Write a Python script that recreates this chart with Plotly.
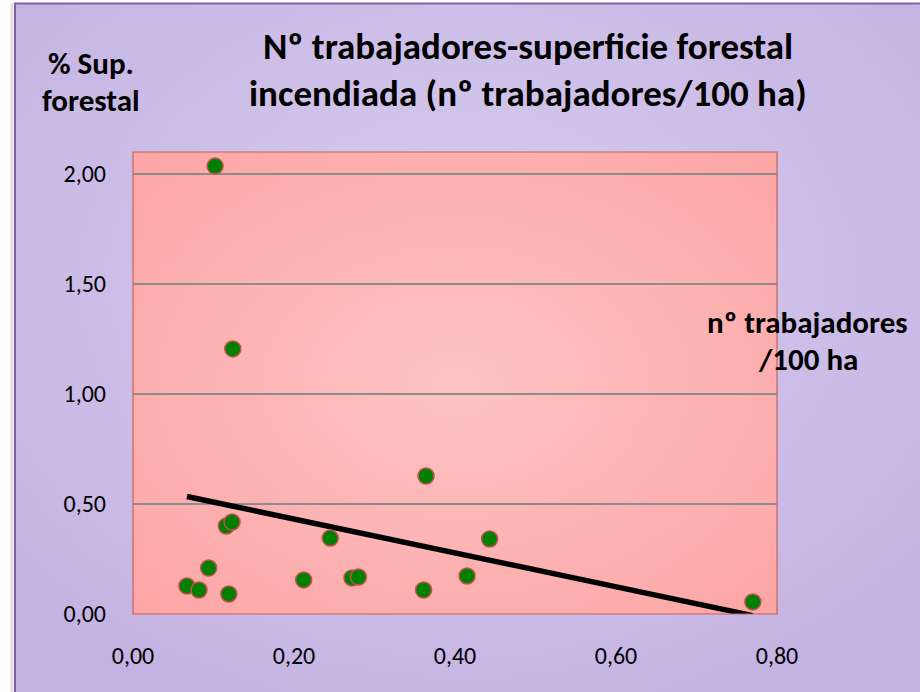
import base64
import struct
import zlib

import numpy as np
import plotly.graph_objects as go

# Data
trabajadores_100ha = [0.102, 0.124, 0.364, 0.245, 0.443, 0.116, 0.123, 0.094, 0.067,
                      0.082, 0.119, 0.212, 0.272, 0.280, 0.361, 0.415, 0.770]
sup_forestal_pct = [2.036, 1.205, 0.627, 0.345, 0.341, 0.400, 0.418, 0.209, 0.127,
                    0.109, 0.091, 0.155, 0.164, 0.168, 0.109, 0.173, 0.055]
y_ticks = [0.0, 0.5, 1.0, 1.5, 2.0]
x_ticks = [0.0, 0.2, 0.4, 0.6, 0.8]

title_lines = ["Nº trabajadores-superficie forestal", "incendiada (nº trabajadores/100 ha)"]
y_title_lines = ["% Sup.", "forestal"]
x_title_lines = ["nº trabajadores", "/100 ha"]

x = np.array(trabajadores_100ha)
y = np.array(sup_forestal_pct)
m, b = np.polyfit(x, y, 1)
xt = np.array([x.min(), x.max()])
yt = m * xt + b

FONT = "Carlito, Calibri, Lato, sans-serif"


def radial_png(w, h, inner, outer, cx=0.5, cy=0.5):
    yy, xx = np.mgrid[0:h, 0:w]
    dx = (xx / (w - 1) - cx) / 0.5
    dy = (yy / (h - 1) - cy) / 0.5
    r = np.clip(np.sqrt(dx ** 2 + dy ** 2) / np.sqrt(2), 0, 1)
    inner = np.array(inner, float)
    outer = np.array(outer, float)
    img = (inner[None, None, :] * (1 - r[..., None]) + outer[None, None, :] * r[..., None])
    img = np.clip(img, 0, 255).astype(np.uint8)
    raw = b"".join(b"\x00" + img[i].tobytes() for i in range(h))

    def chunk(tag, data):
        c = struct.pack(">I", len(data)) + tag + data
        return c + struct.pack(">I", zlib.crc32(tag + data) & 0xFFFFFFFF)

    png = b"\x89PNG\r\n\x1a\n" + chunk(b"IHDR", struct.pack(">IIBBBBB", w, h, 8, 2, 0, 0, 0))
    png += chunk(b"IDAT", zlib.compress(raw, 9)) + chunk(b"IEND", b"")
    return "data:image/png;base64," + base64.b64encode(png).decode()


fig = go.Figure()
fig.add_trace(go.Scatter(x=xt, y=yt, mode="lines",
                         line=dict(color="black", width=5.5), showlegend=False,
                         hoverinfo="skip"))
fig.add_trace(go.Scatter(x=x, y=y, mode="markers",
                         marker=dict(color="#008000", size=16,
                                     line=dict(color="#c0504d", width=1.5)),
                         showlegend=False))

L, R, T, B = 133, 143, 152, 78
W, H = 920, 692
pw, ph = W - L - R, H - T - B


def px(v):
    return (v - L) / pw


def py(v):
    return (H - B - v) / ph


images = [
    dict(source=radial_png(184, 138, (216, 206, 240), (196, 178, 226), 0.5, 0.4),
         xref="paper", yref="paper", x=px(15), y=py(3),
         sizex=px(920) - px(15), sizey=py(3) - py(692),
         sizing="stretch", layer="below", xanchor="left", yanchor="top"),
    dict(source=radial_png(129, 92, (254, 196, 196), (253, 166, 166)),
         xref="paper", yref="paper", x=0, y=1, sizex=1, sizey=1,
         sizing="stretch", layer="below", xanchor="left", yanchor="top"),
]

shapes = [
    dict(type="line", xref="paper", yref="paper", x0=px(12), x1=px(12),
         y0=py(692), y1=py(3), line=dict(color="#e0e0e0", width=3), layer="below"),
    dict(type="rect", xref="paper", yref="paper", x0=px(15), x1=px(921),
         y0=py(694), y1=py(3.5), fillcolor="rgba(0,0,0,0)",
         line=dict(color="#8064a2", width=2), layer="below"),
    dict(type="rect", xref="paper", yref="paper", x0=0, x1=1, y0=0, y1=1,
         fillcolor="rgba(0,0,0,0)", line=dict(color="#c9605c", width=1.2),
         layer="above"),
]

annotations = []
for txt, yc in zip(title_lines, [47, 94]):
    annotations.append(dict(text="<b>" + txt + "</b>", xref="paper", yref="paper",
                            x=px(528), y=py(yc), xanchor="center", yanchor="middle",
                            showarrow=False, font=dict(family=FONT, size=37, color="black")))
for txt, yc in zip(y_title_lines, [63, 100]):
    annotations.append(dict(text="<b>" + txt + "</b>", xref="paper", yref="paper",
                            x=px(91), y=py(yc), xanchor="center", yanchor="middle",
                            showarrow=False, font=dict(family=FONT, size=31, color="black")))
for txt, yc in zip(x_title_lines, [322, 359]):
    annotations.append(dict(text="<b>" + txt + "</b>", xref="paper", yref="paper",
                            x=px(808), y=py(yc), xanchor="center", yanchor="middle",
                            showarrow=False, font=dict(family=FONT, size=31, color="black")))

fig.update_layout(
    width=W, height=H,
    margin=dict(l=L, r=R, t=T, b=B, pad=0),
    paper_bgcolor="white",
    plot_bgcolor="rgba(0,0,0,0)",
    separators=",.",
    images=images,
    shapes=shapes,
    annotations=annotations,
    font=dict(family=FONT, color="black"),
)
fig.update_xaxes(range=[0, 0.8], tickvals=x_ticks, tickformat=".2f",
                 showgrid=False, zeroline=False, showline=False,
                 tickfont=dict(size=24, family=FONT, color="black"),
                 ticklabelstandoff=25)
fig.update_yaxes(range=[0, 2.1], tickvals=y_ticks, tickformat=".2f",
                 showgrid=True, gridcolor="#8c8c8c", gridwidth=1.5,
                 zeroline=False, showline=False,
                 tickfont=dict(size=24, family=FONT, color="black"),
                 ticklabelstandoff=26)

fig.write_html("out.html")
